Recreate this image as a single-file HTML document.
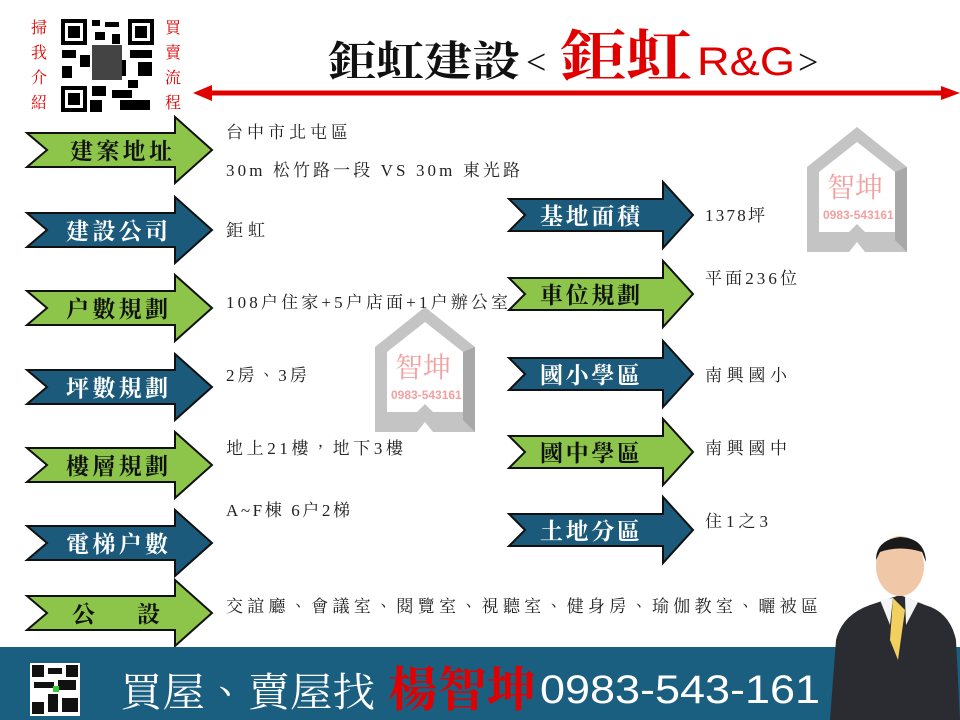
<!DOCTYPE html>
<html><head><meta charset="utf-8"><style>
html,body{margin:0;padding:0;background:#fff;}
svg{display:block;}
.t{font-family:"Liberation Serif","Noto Serif CJK TC","Noto Serif CJK SC",serif;}
</style></head><body>
<svg width="960" height="720" viewBox="0 0 960 720" xmlns="http://www.w3.org/2000/svg">
<defs>
<path id="la" d="M0,-17 L148,-17 L148,-33 L185,0 L148,33 L148,17 L0,17 L20,0 Z" stroke="#111" stroke-width="2"/>
<path id="ra" d="M0,-16 L154,-16 L154,-33 L184,0 L154,33 L154,16 L0,16 L16,0 Z" stroke="#111" stroke-width="2"/>
<g id="house">
<path d="M0,40 L50,0 L100,40 L100,125 L58,125 L50,115 L42,125 L0,125 Z" fill="#c4c4c4"/>
<path d="M12,45 L50,15 L88,45 L88,105 L58,105 L50,97 L42,105 L12,105 Z" fill="#fff"/>
<path d="M88,45 L100,40 L100,125 L88,113 Z" fill="#a8a8a8"/>
</g>
</defs>
<!-- QR top-left -->
<rect x="60" y="18" width="95" height="95" fill="#fff"/>
<g fill="#000">
<rect x="61" y="19" width="26" height="26"/><rect x="128" y="19" width="26" height="26"/><rect x="61" y="86" width="26" height="26"/>
</g>
<g fill="#fff"><rect x="65" y="23" width="18" height="18"/><rect x="132" y="23" width="18" height="18"/><rect x="65" y="90" width="18" height="18"/></g>
<g fill="#000"><rect x="68" y="26" width="12" height="12"/><rect x="135" y="26" width="12" height="12"/><rect x="68" y="93" width="12" height="12"/>
<rect x="92" y="20" width="8" height="6"/><rect x="105" y="22" width="14" height="5"/><rect x="95" y="32" width="10" height="8"/><rect x="112" y="34" width="8" height="10"/>
<rect x="62" y="50" width="14" height="8"/><rect x="80" y="55" width="10" height="12"/><rect x="130" y="50" width="22" height="8"/><rect x="138" y="62" width="14" height="14"/>
<rect x="62" y="66" width="10" height="12"/><rect x="92" y="86" width="14" height="10"/><rect x="112" y="90" width="20" height="8"/><rect x="120" y="100" width="30" height="10"/>
<rect x="90" y="100" width="12" height="12"/><rect x="128" y="80" width="10" height="8"/><rect x="118" y="60" width="8" height="16"/>
<rect x="92" y="45" width="30" height="35" fill="#444"/></g>
<g class="t" fill="#e00000" font-size="16">
<text x="31" y="33">掃</text><text x="31" y="58">我</text><text x="31" y="83">介</text><text x="31" y="108">紹</text>
<text x="165" y="33">買</text><text x="165" y="58">賣</text><text x="165" y="83">流</text><text x="165" y="108">程</text>
</g>
<!-- title -->
<text class="t" x="328" y="76" font-size="42" font-weight="bold" fill="#111" textLength="192" lengthAdjust="spacingAndGlyphs">鉅虹建設</text>
<text class="t" x="526" y="74" font-size="36" fill="#111">&lt;</text>
<text class="t" x="560" y="76" font-size="56" font-weight="bold" fill="#e00000" textLength="132" lengthAdjust="spacingAndGlyphs">鉅虹</text>
<text x="697" y="75" font-family="Liberation Sans,sans-serif" font-size="40" fill="#e00000" textLength="98" lengthAdjust="spacingAndGlyphs">R&amp;G</text>
<text class="t" x="798" y="74" font-size="36" fill="#111">&gt;</text>
<!-- red line -->
<line x1="205" y1="93" x2="950" y2="93" stroke="#e00000" stroke-width="5"/>
<path d="M193,93 L212,85 L212,101 Z" fill="#e00000"/>
<path d="M960,93 L941,86 L941,100 Z" fill="#e00000"/>
<!-- watermarks -->
<g transform="translate(807,127)"><use href="#house"/><text class="t" x="20" y="70" font-size="28" fill="#f3a0a0">智坤</text><text x="16" y="92" font-family="Liberation Sans,sans-serif" font-size="12" font-weight="bold" fill="#f3a0a0">0983-543161</text></g>
<g transform="translate(375,307)"><use href="#house"/><text class="t" x="20" y="70" font-size="28" fill="#f3a0a0">智坤</text><text x="16" y="92" font-family="Liberation Sans,sans-serif" font-size="12" font-weight="bold" fill="#f3a0a0">0983-543161</text></g>
<!-- arrows -->
<g class="t" font-size="23" font-weight="bold">
<use href="#la" x="27" y="150" fill="#8cc54a"/><text x="70" y="159" fill="#111" textLength="102">建案地址</text>
<use href="#la" x="27" y="230" fill="#1b5a7a"/><text x="66" y="239" fill="#fff" textLength="102">建設公司</text>
<use href="#la" x="27" y="308" fill="#8cc54a"/><text x="66" y="317" fill="#111" textLength="102">户數規劃</text>
<use href="#la" x="27" y="387" fill="#1b5a7a"/><text x="66" y="396" fill="#fff" textLength="102">坪數規劃</text>
<use href="#la" x="27" y="465" fill="#8cc54a"/><text x="66" y="474" fill="#111" textLength="102">樓層規劃</text>
<use href="#la" x="27" y="543" fill="#1b5a7a"/><text x="66" y="552" fill="#fff" textLength="102">電梯户數</text>
<use href="#la" x="27" y="613" fill="#8cc54a"/><text x="72" y="622" fill="#111" textLength="88">公　設</text>
<use href="#ra" x="509" y="215" fill="#1b5a7a"/><text x="540" y="224" fill="#fff" textLength="100">基地面積</text>
<use href="#ra" x="509" y="294" fill="#8cc54a"/><text x="540" y="303" fill="#111" textLength="100">車位規劃</text>
<use href="#ra" x="509" y="374" fill="#1b5a7a"/><text x="540" y="383" fill="#fff" textLength="100">國小學區</text>
<use href="#ra" x="509" y="452" fill="#8cc54a"/><text x="540" y="461" fill="#111" textLength="100">國中學區</text>
<use href="#ra" x="509" y="530" fill="#1b5a7a"/><text x="540" y="539" fill="#fff" textLength="100">土地分區</text>
</g>
<!-- values -->
<g class="t" font-size="17" fill="#222">
<text x="226" y="138" textLength="122">台中市北屯區</text>
<text x="226" y="176" textLength="294">30m 松竹路一段 VS 30m 東光路</text>
<text x="226" y="236" textLength="39">鉅虹</text>
<text x="226" y="308" textLength="282">108户住家+5户店面+1户辦公室</text>
<text x="226" y="381" textLength="81">2房、3房</text>
<text x="226" y="454" textLength="177">地上21樓，地下3樓</text>
<text x="226" y="516" textLength="124">A~F棟 6户2梯</text>
<text x="226" y="612" textLength="592">交誼廳、會議室、閱覽室、視聽室、健身房、瑜伽教室、曬被區</text>
<text x="705" y="221" textLength="60">1378坪</text>
<text x="705" y="284" textLength="92">平面236位</text>
<text x="705" y="381" textLength="82">南興國小</text>
<text x="705" y="454" textLength="82">南興國中</text>
<text x="705" y="527" textLength="63">住1之3</text>
</g>
<!-- bottom bar -->
<rect x="0" y="647" width="960" height="73" fill="#1a5e80"/>
<rect x="30" y="663" width="50" height="53" fill="#fff"/>
<g fill="#111"><rect x="32" y="665" width="12" height="12"/><rect x="66" y="665" width="12" height="12"/><rect x="32" y="702" width="12" height="12"/>
<rect x="48" y="668" width="14" height="6"/><rect x="34" y="682" width="20" height="6"/><rect x="58" y="680" width="18" height="10"/><rect x="48" y="694" width="10" height="18"/><rect x="62" y="698" width="16" height="14"/></g>
<rect x="53" y="686" width="6" height="6" fill="#3c3"/>
<text class="t" x="120" y="706" font-size="40" fill="#fff" textLength="255" lengthAdjust="spacingAndGlyphs">買屋、賣屋找</text>
<text class="t" x="388" y="706" font-size="48" fill="#e00000" font-weight="bold" textLength="148" lengthAdjust="spacingAndGlyphs">楊智坤</text>
<text x="540" y="703" font-family="Liberation Sans,sans-serif" font-size="40" fill="#fff" textLength="280" lengthAdjust="spacingAndGlyphs">0983-543-161</text>
<!-- person -->
<path d="M830,720 L836,640 Q842,615 870,605 L900,595 L925,605 Q950,612 956,640 L960,720 Z" fill="#2a2c31"/>
<path d="M893,598 L905,610 L898,660 L890,640 Z" fill="#f2d060"/>
<path d="M880,600 L893,598 L890,625 Z M905,597 L918,602 L906,625 Z" fill="#f4f4f4"/>
<ellipse cx="900" cy="566" rx="24" ry="30" fill="#f0c8a8"/>
<path d="M876,560 Q876,540 900,537 Q925,538 926,562 L922,552 Q900,545 880,552 Z" fill="#1a1a1a"/>
</svg>
</body></html>
